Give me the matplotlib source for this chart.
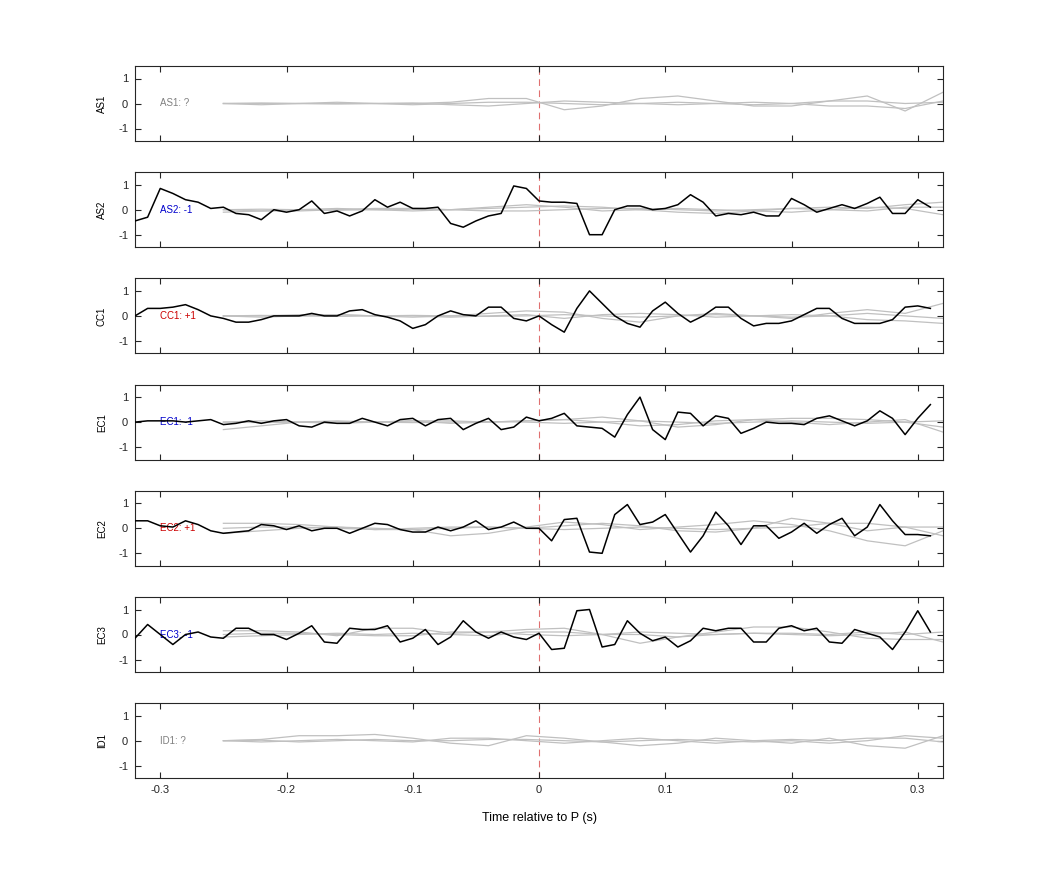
import numpy as np
import matplotlib
matplotlib.use("Agg")
import matplotlib.pyplot as plt

plt.rcParams['font.family'] = ['Liberation Sans', 'DejaVu Sans']
plt.rcParams['axes.unicode_minus'] = False

names = ["AS1", "AS2", "CC1", "EC1", "EC2", "EC3", "ID1"]
labels = ["AS1: ?", "AS2: -1", "CC1: +1", "EC1: -1", "EC2: +1", "EC3: -1", "ID1: ?"]
label_colors = ["#808080", "#0000cc", "#cc0000", "#0000cc", "#cc0000", "#0000cc", "#808080"]

t_black = [-0.32 + 0.01 * i for i in range(64)]
black = {
 "AS2": [-0.45,-0.3,0.85,0.65,0.4,0.3,0.05,0.1,-0.15,-0.2,-0.4,0.0,-0.1,0.0,0.35,-0.15,-0.05,-0.25,-0.05,0.4,0.1,0.3,0.05,0.05,0.1,-0.55,-0.7,-0.45,-0.25,-0.15,0.95,0.85,0.35,0.3,0.3,0.25,-1.0,-1.0,0.0,0.15,0.15,0.0,0.05,0.2,0.6,0.3,-0.25,-0.15,-0.2,-0.1,-0.25,-0.25,0.45,0.2,-0.1,0.05,0.2,0.05,0.25,0.5,-0.15,-0.15,0.4,0.1],
 "CC1": [0.0,0.3,0.3,0.35,0.45,0.25,0.0,-0.1,-0.25,-0.25,-0.15,0.0,0.0,0.0,0.1,0.0,0.0,0.2,0.25,0.05,-0.05,-0.2,-0.5,-0.35,0.0,0.2,0.05,0.0,0.35,0.35,-0.1,-0.2,0.0,-0.35,-0.65,0.3,1.0,0.5,0.0,-0.3,-0.45,0.2,0.55,0.1,-0.25,0.0,0.35,0.35,-0.1,-0.4,-0.3,-0.3,-0.2,0.05,0.3,0.3,-0.1,-0.3,-0.3,-0.3,-0.15,0.35,0.4,0.3],
 "EC1": [0.0,0.05,0.05,0.05,0.0,0.05,0.1,-0.1,-0.05,0.05,-0.05,0.05,0.1,-0.15,-0.2,0.0,-0.05,-0.05,0.15,0.0,-0.15,0.1,0.15,-0.15,0.1,0.15,-0.3,-0.05,0.15,-0.3,-0.2,0.2,0.05,0.15,0.35,-0.15,-0.2,-0.25,-0.6,0.3,1.0,-0.3,-0.7,0.4,0.35,-0.15,0.25,0.15,-0.45,-0.25,0.0,-0.05,-0.05,-0.1,0.15,0.25,0.05,-0.15,0.05,0.45,0.15,-0.5,0.15,0.7],
 "EC2": [0.3,0.3,0.1,0.05,0.3,0.15,-0.1,-0.2,-0.15,-0.1,0.15,0.1,-0.05,0.1,-0.1,0.0,0.0,-0.2,0.0,0.2,0.15,-0.05,-0.15,-0.15,0.05,-0.1,0.05,0.3,-0.05,0.05,0.25,0.0,0.0,-0.5,0.35,0.4,-0.95,-1.0,0.55,0.95,0.15,0.25,0.55,-0.2,-0.95,-0.3,0.65,0.1,-0.65,0.1,0.1,-0.4,-0.15,0.2,-0.2,0.15,0.4,-0.3,0.05,0.95,0.3,-0.25,-0.25,-0.3],
 "EC3": [-0.15,0.4,0.0,-0.4,0.0,0.1,-0.1,-0.15,0.25,0.25,0.0,0.0,-0.2,0.05,0.35,-0.3,-0.35,0.25,0.2,0.2,0.35,-0.3,-0.15,0.2,-0.4,-0.1,0.55,0.1,-0.15,0.1,-0.1,-0.2,0.05,-0.6,-0.55,0.95,1.0,-0.5,-0.4,0.55,0.05,-0.25,-0.1,-0.5,-0.25,0.25,0.15,0.25,0.25,-0.3,-0.3,0.25,0.35,0.15,0.25,-0.3,-0.35,0.2,0.05,-0.1,-0.6,0.1,0.95,0.1],
}

t_gray = [-0.25 + 0.03 * i for i in range(20)]
gray = {
 "AS1": [[0,0,0,0,0,0,0.05,0.2,0.2,-0.25,-0.1,0.2,0.3,0.1,-0.1,-0.1,0.1,0.3,-0.3,0.45],
         [0,-0.05,0,0.05,0,-0.05,0,0.05,0.05,0,-0.05,0,0.05,0,-0.05,0,0.1,0.1,0,0.05],
         [0,0.02,0,-0.02,0,0.02,-0.05,-0.1,0,0.1,0.05,0,-0.05,0,0.05,0,-0.1,-0.1,-0.2,0.1]],
 "AS2": [[-0.1,-0.05,0,0.05,0,-0.05,0,0.05,0.1,0.15,0.1,0,-0.1,-0.15,-0.05,0.05,0.1,0.05,0.2,0.3],
         [0,0.02,0,-0.02,0,0.02,0,0.1,0.2,0.1,-0.05,0,0.05,0,-0.05,-0.1,0,0.1,0.05,-0.2],
         [0,-0.05,-0.05,0,0.05,0.05,0,-0.05,-0.05,0,0.05,0.05,0,-0.05,0,0.05,0,-0.05,0.1,0.1]],
 "CC1": [[0,0,0.05,0.05,0,-0.05,0,0.1,0.2,0.15,-0.1,-0.25,0,0.1,0,-0.1,0.1,0.25,0.1,0.5],
         [0,-0.05,0,0.05,0,0,-0.05,0,0.05,-0.1,0.05,0.1,0.05,-0.05,0,0.05,0,-0.15,-0.2,-0.3],
         [0,0.02,0,-0.02,0,0.02,0,-0.02,0,0.05,0,-0.05,0,0.05,0,-0.05,0,0.1,0,-0.1]],
 "EC1": [[-0.3,-0.15,0,0.05,0,0.05,0.05,0,0.05,0.1,0.2,0.05,-0.2,-0.1,0.1,0.15,0.15,0.1,0.0,-0.2],
         [0,0.05,0,-0.05,0,0.05,-0.05,0,0.05,0.1,0,-0.15,-0.1,0.05,0.1,0,-0.1,0,0.1,-0.4],
         [0,-0.02,0,0.02,0,-0.02,0,0.02,0,-0.05,0,0.05,0,-0.05,0,0.05,0,-0.05,0,0.05]],
 "EC2": [[0.2,0.2,0.15,0.05,-0.05,-0.05,-0.3,-0.2,0.05,0.25,0.15,-0.05,0.05,0.15,0.3,0.15,-0.1,-0.5,-0.7,-0.1],
         [0,0.05,0.05,0,-0.05,0,0.05,0.05,0,0.1,0.2,0.1,-0.1,-0.15,0.0,0.4,0.2,-0.1,0.05,0.05],
         [-0.2,-0.1,0,0.05,0,-0.05,0,0.05,0,-0.05,0,0.05,0,-0.05,0,0.05,0.2,0.2,0.05,-0.3]],
 "EC3": [[0.15,0.15,0.1,-0.05,0.25,0.25,0.05,0.1,0.2,0.25,0,-0.35,-0.1,0.1,0.3,0.3,0.1,-0.15,-0.2,-0.2],
         [0,0.05,0.05,0,-0.05,-0.05,0.1,0.1,0,-0.05,0,0.1,0.05,0,0.05,0,-0.05,0,0.1,-0.3],
         [-0.1,-0.05,0,0.05,0,0.05,0,-0.05,0.1,0.1,0,0,-0.1,0,0.05,0.05,0,0.1,0,0.1]],
 "ID1": [[0,0.05,0.2,0.2,0.25,0.1,-0.1,-0.2,0.2,0.1,-0.05,-0.2,-0.1,0.1,0.0,-0.1,0.1,-0.2,-0.3,0.2],
         [0,-0.05,0,0.05,0,-0.05,0.1,0.1,0,-0.1,0,0.1,0,-0.1,0,0.05,0,0.1,0.1,-0.05],
         [0,0.02,-0.05,0,0.05,0,0,0.05,0.05,0,-0.05,0,0.05,0,-0.05,0,-0.1,0,0.2,0.1]],
}

fig = plt.figure(figsize=(10.42, 8.75), dpi=100)
W, H = 1042, 875
left, right = 135 / W, 943 / W
for i, nm in enumerate(names):
    top = 66 + i * 106.2
    ax = fig.add_axes([left, 1 - (top + 75) / H, right - left, 75 / H])
    for g in gray[nm]:
        ax.plot(t_gray, g, color="#c0c0c0", lw=0.9, zorder=2)
    ax.axvline(0, color="#e07070", ls=(0, (6, 4)), lw=0.8, zorder=1)
    ax.text(-0.30, 0, labels[i], color=label_colors[i], fontsize=7, va="center", ha="left", zorder=3)
    if nm in black:
        ax.plot(t_black, black[nm], color="black", lw=1.1, zorder=4)
    ax.set_xlim(-0.32, 0.32)
    ax.set_ylim(-1.5, 1.5)
    ax.set_yticks([-1, 0, 1])
    ax.set_xticks([-0.3, -0.2, -0.1, 0, 0.1, 0.2, 0.3])
    for s in ax.spines.values():
        s.set_color("#262626")
        s.set_linewidth(0.8)
    ax.tick_params(direction="in", top=True, right=True, labelsize=8, length=4,
                   color="#262626", labelcolor="#262626", pad=5)
    ax.set_ylabel(nm, fontsize=7, labelpad=8)
    if i < len(names) - 1:
        ax.set_xticklabels([])
    else:
        ax.set_xticklabels(["-0.3", "-0.2", "-0.1", "0", "0.1", "0.2", "0.3"])
        ax.set_xlabel("Time relative to P (s)", fontsize=9, labelpad=12)
fig.savefig("out.png", dpi=100)
